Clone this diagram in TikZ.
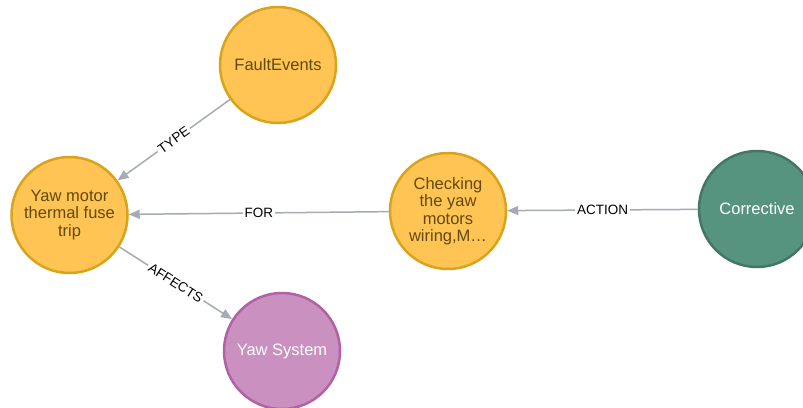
\documentclass[tikz,border=0pt]{standalone}
\usepackage{fontspec}
\setmainfont{Liberation Sans}
\usetikzlibrary{arrows.meta}
\definecolor{orfill}{HTML}{FFC454}
\definecolor{orline}{HTML}{D9A31A}
\definecolor{ortext}{HTML}{604A0E}
\definecolor{pufill}{HTML}{C990C0}
\definecolor{puline}{HTML}{B261A5}
\definecolor{grfill}{HTML}{57947F}
\definecolor{grline}{HTML}{447666}
\definecolor{edgecol}{HTML}{A5ABB6}
\tikzset{
  gnode/.style={circle, minimum size=116pt, inner sep=0pt, line width=2.5pt, align=center,
    font=\fontsize{16.5}{17.5}\selectfont},
  ornode/.style={gnode, fill=orfill, draw=orline, text=ortext},
  punode/.style={gnode, fill=pufill, draw=puline, text=white},
  grnode/.style={gnode, fill=grfill, draw=grline, text=white},
  rel/.style={draw=edgecol, line width=1.5pt, -{Triangle[length=11pt,width=9pt]}},
  rlab/.style={fill=white, text=black, inner sep=2pt, font=\fontsize{13.5}{14}\selectfont}
}
\begin{document}
\begin{tikzpicture}[x=1pt,y=-1pt]
\useasboundingbox (0,0) rectangle (803,407);
\clip (0,0) rectangle (803,407);
\node[ornode] (fault) at (278,65) {FaultEvents};
\node[ornode] (yaw) at (69.5,215) {Yaw motor\\thermal fuse\\trip};
\node[ornode] (check) at (448,211) {Checking\\the yaw\\motors\\wiring,M…};
\node[grnode] (corr) at (757,209) {Corrective};
\node[punode] (ysys) at (282,351) {Yaw System};
\draw[rel] (fault) -- node[rlab, sloped] {TYPE} (yaw);
\draw[rel] (check) -- node[rlab] {FOR} (yaw);
\draw[rel] (corr) -- node[rlab] {ACTION} (check);
\draw[rel] (yaw) -- node[rlab, sloped] {AFFECTS} (ysys);
\end{tikzpicture}
\end{document}
